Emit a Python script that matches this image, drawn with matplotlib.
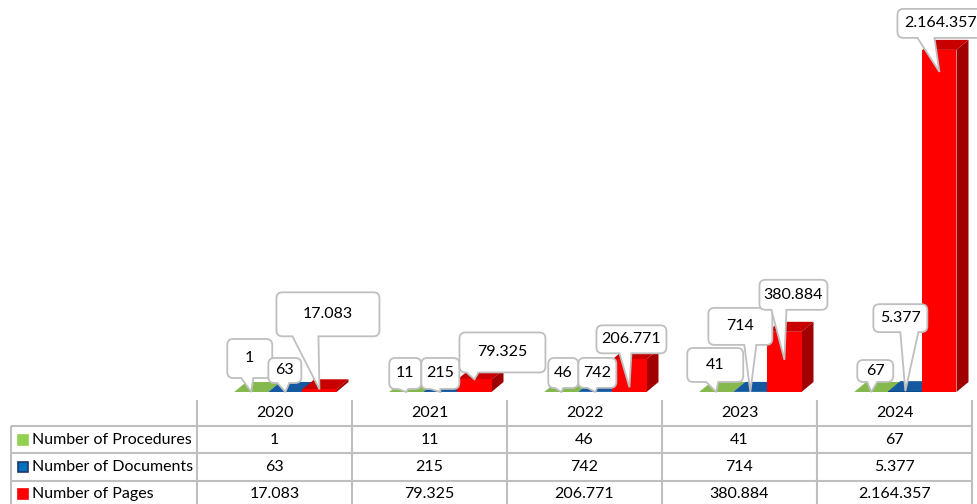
import numpy as np
import matplotlib.pyplot as plt
from matplotlib.patches import Polygon, PathPatch, Rectangle
from matplotlib.path import Path
from matplotlib.transforms import IdentityTransform

# dados
years = ["2020", "2021", "2022", "2023", "2024"]
series_names = ["Number of Procedures", "Number of Documents", "Number of Pages"]
procedures = [1, 11, 46, 41, 67]
documents = [63, 215, 742, 714, 5377]
pages = [17083, 79325, 206771, 380884, 2164357]
all_series = [procedures, documents, pages]

# cores: frente, topo, lado
bar_colors = [("#6FA03B", "#85B94D", "#5A8030"),
              ("#0B4A8A", "#1459A0", "#083668"),
              ("#FF0000", "#C80000", "#A00000")]
legend_colors = [("#92D050", "#92D050"), ("#0070C0", "#1F3864"), ("#FF0000", "#FF0000")]
grid_color = "#BFBFBF"

plt.rcParams['font.family'] = ['Lato', 'DejaVu Sans']

W, H = 977, 504
fig = plt.figure(figsize=(W / 100, H / 100), dpi=100)

# eixo das barras
ymax = 2.48e6
ax = fig.add_axes([197 / W, 112 / H, 775 / W, 392 / H])
ax.set_xlim(-0.5, 4.5)
ax.set_ylim(0, ymax)
ax.axis('off')

ppx = ax.bbox.width / 5.0
ppy = ax.bbox.height / ymax
dx = 12 / ppx
dy = 10 / ppy

x = np.arange(len(years))
lefts = [-0.26, -0.04, 0.18]
bw = 0.22

for j, vals in enumerate(all_series):
    front, top, side = bar_colors[j]
    xl = x + lefts[j]
    ax.bar(xl, vals, width=bw, align='edge', color=front, linewidth=0, zorder=3 + 2 * j)
    for xi, v in zip(xl, vals):
        ax.add_patch(Polygon([(xi, v), (xi + bw, v), (xi + bw + dx, v + dy), (xi + dx, v + dy)],
                             closed=True, facecolor=top, lw=0, zorder=2 + 2 * j))
        ax.add_patch(Polygon([(xi + bw, 0), (xi + bw + dx, dy), (xi + bw + dx, v + dy), (xi + bw, v)],
                             closed=True, facecolor=side, lw=0, zorder=2 + 2 * j))

# callouts: (queda da ponta, esq, dir, topo, base, cauda0, cauda1) em px relativos a ponta
label_layout = [
    [(0, -24, 21, -53, -14, -10, 2), (0, -17, 15, -34, -3, -8, 2), (0, -13, 17, -34, -4, -6, 2),
     (0, -29, 27, -44, -10, -10, 2), (0, -14, 22, -32, -10, -4, 6)],
    [(0, -17, 16, -34, -9, -8, 4), (0, -19, 19, -34, -3, -10, 0), (0, -17, 21, -34, -4, -8, 2),
     (0, -42, 22, -84, -47, -6, 6), (0, -32, 22, -87, -59, -5, 13)],
    [(0, -43, 60, -97, -53, -27, -1), (0, -15, 71, -47, -7, -8, 4), (28, -33, 37, -62, -34, -10, 2),
     (28, -25, 43, -80, -50, -13, 2), (22, -42, 45, -63, -34, -22, -5)],
]


def fmt(v):
    return f"{v:,}".replace(",", ".")


def callout(tipx, tipy, l, r, t, b, t0, t1, rad=6):
    L, R = tipx + l, tipx + r
    T, B = tipy - t, tipy - b
    a = max(tipx + t0, L + rad)
    c = min(tipx + t1, R - rad)
    verts = [(L + rad, B), (a, B), (tipx, tipy), (c, B), (R - rad, B),
             (R, B), (R, B + rad), (R, T - rad), (R, T), (R - rad, T),
             (L + rad, T), (L, T), (L, T - rad), (L, B + rad), (L, B), (L + rad, B), (L + rad, B)]
    codes = [Path.MOVETO, Path.LINETO, Path.LINETO, Path.LINETO, Path.LINETO,
             Path.CURVE3, Path.CURVE3, Path.LINETO, Path.CURVE3, Path.CURVE3,
             Path.LINETO, Path.CURVE3, Path.CURVE3, Path.LINETO, Path.CURVE3, Path.CURVE3, Path.CLOSEPOLY]
    return Path(verts, codes), ((L + R) / 2, (T + B) / 2)


z = 20
for j, vals in enumerate(all_series):
    for i, v in enumerate(vals):
        drop, l, r, t, b, t0, t1 = label_layout[j][i]
        px, py = ax.transData.transform((x[i] + lefts[j] + bw / 2, v))
        py -= drop
        path, (cx, cy) = callout(px, py, l, r, t, b, t0, t1)
        ax.add_patch(PathPatch(path, transform=IdentityTransform(), facecolor="white",
                               edgecolor=grid_color, lw=1.3, clip_on=False, zorder=z))
        ax.text(cx, cy, fmt(v), transform=IdentityTransform(), ha='center', va='center',
                fontsize=11.5, color="black", zorder=z + 1, clip_on=False)
        z += 2

# tabela de dados
tab = fig.add_axes([0, 0, 1, 1], zorder=-1)
tab.set_xlim(0, W)
tab.set_ylim(H, 0)
tab.axis('off')

col_edges = [197 + 155 * k for k in range(len(years) + 1)]
row_lines = [426, 453, 481]
line_kw = dict(color=grid_color, lw=1.5, solid_capstyle='butt')
for xe in col_edges:
    tab.plot([xe, xe], [400, H], **line_kw)
tab.plot([11, 11], [426, H], **line_kw)
for yl in row_lines:
    tab.plot([11, col_edges[-1]], [yl, yl], **line_kw)

centers = [(col_edges[k] + col_edges[k + 1]) / 2 for k in range(len(years))]
for cx, yr in zip(centers, years):
    tab.text(cx, 413, yr, ha='center', va='center', fontsize=11.5, color="black")

row_y = [439.5, 467, 494]
for j, vals in enumerate(all_series):
    yc = row_y[j]
    fc, ec = legend_colors[j]
    tab.add_patch(Rectangle((17.5, yc - 5), 10, 10, facecolor=fc, edgecolor=ec, lw=1.2))
    tab.text(32, yc, series_names[j], ha='left', va='center', fontsize=11.5, color="black")
    for cx, v in zip(centers, vals):
        tab.text(cx, yc, fmt(v), ha='center', va='center', fontsize=11.5, color="black")

fig.savefig("out.png", dpi=100)
